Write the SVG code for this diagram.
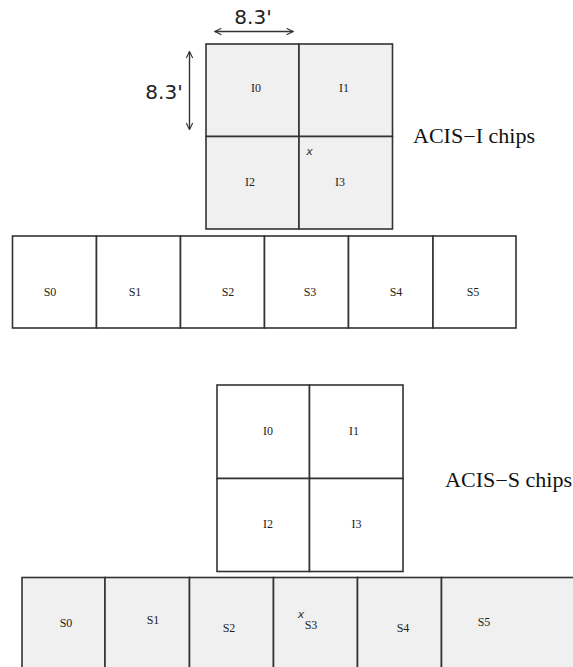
<svg xmlns="http://www.w3.org/2000/svg" width="573" height="667" viewBox="0 0 573 667">
<style>
.chip{stroke:#333;stroke-width:1.6;}
.g{fill:#f0f0f0;}
.w{fill:#ffffff;}
.lbl{font-family:"Liberation Serif","DejaVu Serif",serif;font-size:12px;fill:#222;text-anchor:middle;}
.dim{font-family:"DejaVu Sans","Liberation Sans",sans-serif;font-size:20px;fill:#222;}
.title{font-family:"Liberation Serif","Times New Roman",serif;font-size:20px;fill:#111;}
.mark{font-family:"DejaVu Sans","Liberation Sans",sans-serif;font-style:italic;font-size:11px;fill:#333;text-anchor:middle;}
.arr{stroke:#333;stroke-width:1.4;fill:none;}
</style>
<defs>
<marker id="ah" viewBox="0 0 10 10" refX="9" refY="5" markerWidth="8" markerHeight="8" orient="auto-start-reverse" markerUnits="userSpaceOnUse">
<path d="M1,1 L9,5 L1,9" fill="none" stroke="#333" stroke-width="1.4"/>
</marker>
</defs>
<rect width="573" height="667" fill="#ffffff"/>

<g id="connectors">
<line class="arr" x1="215" y1="31.5" x2="293" y2="31.5" marker-start="url(#ah)" marker-end="url(#ah)"/>
<line class="arr" x1="189.5" y1="51.5" x2="189.5" y2="129.5" marker-start="url(#ah)" marker-end="url(#ah)"/>
</g>
<g id="dim-labels">
<text class="dim" x="253" y="24" text-anchor="middle">8.3'</text>
<text class="dim" x="164" y="99" text-anchor="middle">8.3'</text>
</g>

<!-- ACIS-I configuration -->
<g id="acisI-I0"><rect class="chip g" x="206" y="44" width="93" height="92.5"/><text class="lbl" x="256" y="92">I0</text></g>
<g id="acisI-I1"><rect class="chip g" x="299" y="44" width="93.5" height="92.5"/><text class="lbl" x="344" y="92">I1</text></g>
<g id="acisI-I2"><rect class="chip g" x="206" y="136.5" width="93" height="92.5"/><text class="lbl" x="250" y="186">I2</text></g>
<g id="acisI-I3"><rect class="chip g" x="299" y="136.5" width="93.5" height="92.5"/><text class="lbl" x="340" y="186">I3</text></g>
<text class="mark" x="309.5" y="155">x</text>
<text class="title" x="413" y="143" textLength="122" lengthAdjust="spacingAndGlyphs">ACIS−I chips</text>

<g id="acisI-S0"><rect class="chip w" x="12.5" y="236" width="84" height="92"/><text class="lbl" x="50" y="296">S0</text></g>
<g id="acisI-S1"><rect class="chip w" x="96.5" y="236" width="84" height="92"/><text class="lbl" x="135" y="296">S1</text></g>
<g id="acisI-S2"><rect class="chip w" x="180.5" y="236" width="84" height="92"/><text class="lbl" x="228" y="296">S2</text></g>
<g id="acisI-S3"><rect class="chip w" x="264.5" y="236" width="84" height="92"/><text class="lbl" x="310" y="296">S3</text></g>
<g id="acisI-S4"><rect class="chip w" x="348.5" y="236" width="84.5" height="92"/><text class="lbl" x="396" y="296">S4</text></g>
<g id="acisI-S5"><rect class="chip w" x="433" y="236" width="83" height="92"/><text class="lbl" x="473" y="296">S5</text></g>

<!-- ACIS-S configuration -->
<g id="acisS-I0"><rect class="chip w" x="217" y="385" width="92.5" height="93.5"/><text class="lbl" x="268" y="435">I0</text></g>
<g id="acisS-I1"><rect class="chip w" x="309.5" y="385" width="93.5" height="93.5"/><text class="lbl" x="354" y="435">I1</text></g>
<g id="acisS-I2"><rect class="chip w" x="217" y="478.5" width="92.5" height="93"/><text class="lbl" x="268" y="528">I2</text></g>
<g id="acisS-I3"><rect class="chip w" x="309.5" y="478.5" width="93.5" height="93"/><text class="lbl" x="356.5" y="528">I3</text></g>
<text class="title" x="445" y="487" textLength="127" lengthAdjust="spacingAndGlyphs">ACIS−S chips</text>

<g id="acisS-S0"><rect class="chip g" x="22" y="577.5" width="83" height="100"/><text class="lbl" x="66" y="627">S0</text></g>
<g id="acisS-S1"><rect class="chip g" x="105" y="577.5" width="84.5" height="100"/><text class="lbl" x="153" y="624">S1</text></g>
<g id="acisS-S2"><rect class="chip g" x="189.5" y="577.5" width="84" height="100"/><text class="lbl" x="229" y="632">S2</text></g>
<g id="acisS-S3"><rect class="chip g" x="273.5" y="577.5" width="84" height="100"/><text class="lbl" x="311" y="629">S3</text></g>
<g id="acisS-S4"><rect class="chip g" x="357.5" y="577.5" width="84" height="100"/><text class="lbl" x="403" y="632">S4</text></g>
<g id="acisS-S5"><rect class="chip g" x="441.5" y="577.5" width="140" height="100"/><text class="lbl" x="484" y="626">S5</text></g>
<text class="mark" x="301" y="618">x</text>
</svg>
